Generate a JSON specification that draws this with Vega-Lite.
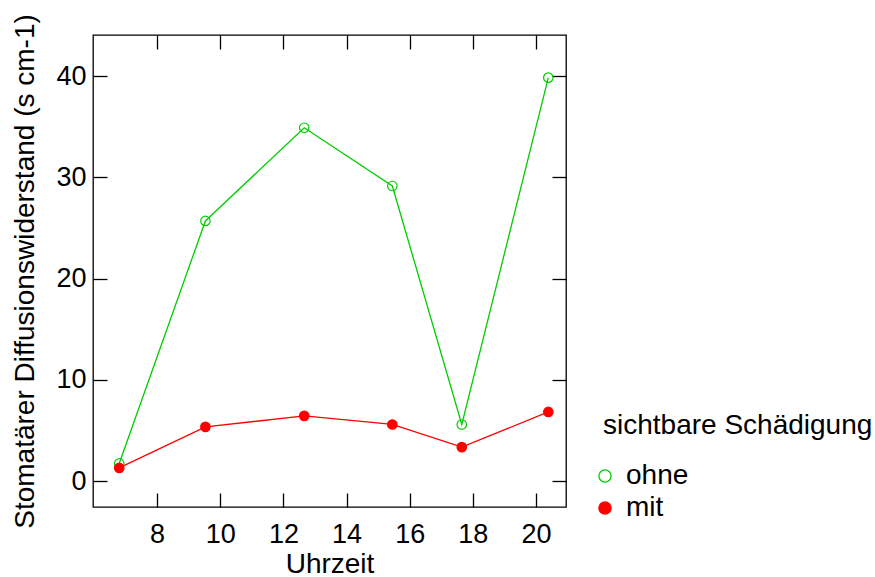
{
  "$schema": "https://vega.github.io/schema/vega-lite/v6.json",
  "width": 473,
  "height": 472,
  "autosize": {"type": "none"},
  "padding": {"left": 93, "top": 35, "right": 309, "bottom": 70},
  "background": "white",
  "config": {
    "font": "Liberation Sans",
    "view": {"stroke": "black", "strokeWidth": 1.3},
    "axis": {
      "domain": false,
      "grid": false,
      "tickColor": "black",
      "tickWidth": 1.3,
      "tickSize": -14,
      "labelColor": "black",
      "labelFont": "Liberation Sans",
      "labelFontSize": 27,
      "titleColor": "black",
      "titleFont": "Liberation Sans",
      "titleFontWeight": "normal",
      "titleFontSize": 28
    },
    "legend": {
      "titleFont": "Liberation Sans",
      "titleFontSize": 28,
      "titleFontWeight": "normal",
      "titleColor": "black",
      "titleLimit": 400,
      "labelFont": "Liberation Sans",
      "labelFontSize": 28,
      "labelColor": "black",
      "labelLimit": 300
    }
  },
  "data": {
    "values": [
      {"zeit": 6.8, "wert": 1.75, "g": "ohne"},
      {"zeit": 9.53, "wert": 25.7, "g": "ohne"},
      {"zeit": 12.66, "wert": 34.9, "g": "ohne"},
      {"zeit": 15.45, "wert": 29.15, "g": "ohne"},
      {"zeit": 17.65, "wert": 5.6, "g": "ohne"},
      {"zeit": 20.39, "wert": 39.85, "g": "ohne"},
      {"zeit": 6.8, "wert": 1.31, "g": "mit"},
      {"zeit": 9.53, "wert": 5.36, "g": "mit"},
      {"zeit": 12.66, "wert": 6.45, "g": "mit"},
      {"zeit": 15.45, "wert": 5.6, "g": "mit"},
      {"zeit": 17.65, "wert": 3.36, "g": "mit"},
      {"zeit": 20.39, "wert": 6.84, "g": "mit"}
    ]
  },
  "resolve": {"axis": {"x": "independent", "y": "independent"}},
  "layer": [
    {
      "transform": [{"filter": "datum.g == 'ohne'"}],
      "mark": {"type": "line", "strokeWidth": 1.3, "color": "#00CD00"},
      "encoding": {
        "x": {"field": "zeit", "type": "quantitative",
              "scale": {"domain": [5.97, 20.95], "nice": false, "zero": false},
              "axis": {"orient": "bottom", "values": [8, 10, 12, 14, 16, 18, 20], "title": "Uhrzeit", "labelPadding": 28, "titlePadding": 3}},
        "y": {"field": "wert", "type": "quantitative",
              "scale": {"domain": [-2.55, 44.06], "nice": false, "zero": false},
              "axis": {"orient": "left", "values": [0, 10, 20, 30, 40], "title": "Stomatärer Diffusionswiderstand (s cm-1)", "labelPadding": 21, "titlePadding": 16}}
      }
    },
    {
      "transform": [{"filter": "datum.g == 'mit'"}],
      "mark": {"type": "line", "strokeWidth": 1.3, "color": "#FF0000"},
      "encoding": {
        "x": {"field": "zeit", "type": "quantitative", "axis": null},
        "y": {"field": "wert", "type": "quantitative", "axis": null}
      }
    },
    {
      "mark": {"type": "point", "shape": "circle", "size": 90, "strokeWidth": 1.2, "opacity": 1},
      "encoding": {
        "x": {"field": "zeit", "type": "quantitative", "axis": null},
        "y": {"field": "wert", "type": "quantitative", "axis": null},
        "stroke": {"field": "g", "type": "nominal",
                   "scale": {"domain": ["ohne", "mit"], "range": ["#00CD00", "#FF0000"]},
                   "legend": {"title": "sichtbare Schädigung", "orient": "none", "legendX": 510, "legendY": 377, "symbolType": "circle", "symbolSize": 150, "symbolStrokeWidth": 1.3, "symbolOffset": -12, "labelOffset": 7, "rowPadding": 4, "titlePadding": 22}},
        "fill": {"field": "g", "type": "nominal",
                 "scale": {"domain": ["ohne", "mit"], "range": ["transparent", "#FF0000"]},
                 "legend": {"title": "sichtbare Schädigung", "orient": "none", "legendX": 510, "legendY": 377, "symbolType": "circle", "symbolSize": 150, "symbolStrokeWidth": 1.3, "symbolOffset": -12, "labelOffset": 7, "rowPadding": 4, "titlePadding": 22}}
      }
    },
    {
      "mark": {"type": "point", "opacity": 0},
      "encoding": {
        "x": {"field": "zeit", "type": "quantitative",
              "axis": {"orient": "top", "values": [8, 10, 12, 14, 16, 18, 20], "labels": false, "title": null}},
        "y": {"field": "wert", "type": "quantitative",
              "axis": {"orient": "right", "values": [0, 10, 20, 30, 40], "labels": false, "title": null}}
      }
    }
  ]
}
